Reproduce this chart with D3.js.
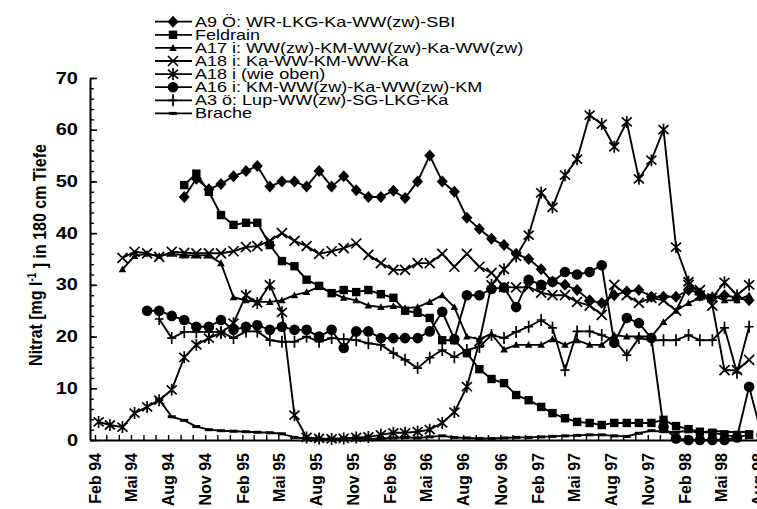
<!DOCTYPE html>
<html lang="de">
<head>
<meta charset="utf-8">
<script src="https://cdn.jsdelivr.net/npm/d3@7"></script>
<style>
  body { margin:0; background:#fff; }
  svg { display:block; background:#fff; font-family:"Liberation Sans", Arial, Helvetica, sans-serif; }
  .line { fill:none; stroke:#000; stroke-width:1.9; stroke-linejoin:round; }
  .axis path, .axis line { stroke:#000; }
</style>
</head>
<body>
<script>
// Nitratwerte je Monat, ab dem jeweiligen Startmonat
var a9Start = "1994-09";
var a9 = [47, 50.5, 48.5, 49.5, 51, 52, 53, 49, 50, 50, 49, 52, 49, 51, 48.3, 47, 47, 48.2, 46.8, 50,
  55, 50, 48, 43, 40.8, 38.9, 37.7, 36, 35, 33, 30.6, 30, 29, 27, 26.5, 28, 28.7, 29, 27.7, 27.7,
  27.7, 29, 28.4, 27.5, 28, 27.5, 27];
var feldrainStart = "1994-09";
var feldrain = [49.3, 51.5, 48, 43.5, 41.6, 42, 42, 37.7, 34.6, 33.6, 31, 29.8, 28.4, 29, 28.6, 29, 28.2, 27.5, 25, 24.6,
  23.6, 19.3, 19.3, 16.8, 13.7, 11.8, 11, 8.7, 7.7, 6.4, 5.2, 4.2, 3.5, 3.3, 2.9, 3.3, 3.3, 3.3, 3.3, 3.9,
  2.7, 2.1, 1.6, 1.4, 1, 0.6, 1];
var a17Start = "1994-04";
var a17 = [33, 35.6, 36, 35.6, 36, 35.7, 35.7, 35.7, 34.2, 27.6, 27, 26.7, 26.7, 27, 28, 28.6, 29.6, 28.5, 27.5, 27,
  26, 25.7, 25.9, 25.5, 25.7, 26.7, 28, 25.7, 20, 19.5, 20.5, 17.5, 18.4, 18.4, 18.4, 19.5, 18.4, 19.3, 18.4, 18.4,
  20.3, 20, 20, 20, 22.8, 25, 26.5, 27.5, 28, 27, 27, 28];
var a18Start = "1994-04";
var a18 = [35.2, 36.4, 36.1, 35.4, 36.4, 36.2, 36.1, 36.1, 36.1, 36.5, 37.3, 37.5, 38.5, 40, 38.5, 37.5, 36, 36.5, 37.1, 38,
  35.8, 34.2, 32.9, 32.9, 34.2, 34.2, 36, 33.5, 36, 33.5, 32.3, 29.6, 29.5, 29.6, 28.5, 28, 28, 26.7, 26, 24.2,
  30, 28, 26.5, 27.5, 27, 25, 30, 29, 26, 13.5, 13.5, 15.5];
var a18bStart = "1994-02";
var a18b = [3.5, 2.9, 2.5, 5.2, 6.4, 7.7, 9.7, 16, 18.4, 19.7, 20.7, 22.6, 28, 26.5, 30, 24.7, 4.8, 0.5, 0.3, 0.2,
  0.3, 0.5, 0.6, 1, 1.4, 1.4, 1.6, 2, 3.3, 5.4, 10.3, 19, 30, 33, 35.5, 39.6, 47.8, 45, 51.2, 54.3,
  62.8, 61.1, 56.7, 61.5, 50.5, 54.1, 60, 37.3, 30.6, 28, 27.5, 30.5, 28, 30];
var a16Start = "1994-06";
var a16 = [25, 25, 24, 23.2, 21.9, 21.9, 23.2, 21.3, 21.9, 22.2, 21.3, 21.9, 21.3, 21.3, 20, 21.3, 17.8, 21, 21, 19.7,
  19.7, 19.7, 19.7, 21, 24.8, 19.5, 28, 28, 29.2, 29.5, 25.7, 31, 30, 30.6, 32.5, 32, 32.5, 33.8, 18.8, 23.6,
  22.6, 19.7, 2.5, 0.3, 0, 0, 0, 0, 0.5, 10.3, 1];
var a3Start = "1994-07";
var a3 = [23.4, 19.7, 20.9, 20.9, 20.9, 20.9, 19.7, 21, 21, 19.3, 19, 19, 20, 19, 19.7, 19.5, 19.3, 18.7, 18.4, 16.8,
  15.5, 13.9, 15.9, 17.4, 16, 17.4, 18, 20.3, 19.7, 20.9, 21.9, 23.2, 21.7, 13.5, 21, 21, 20.3, 19.3, 16.4, 19.7,
  19.3, 19.3, 19.3, 20.3, 19.3, 19.3, 21.7, 13, 21.9];
var bracheStart = "1994-07";
var brache = [7.8, 4.5, 3.8, 2.6, 2, 1.8, 1.7, 1.6, 1.5, 1.4, 1.2, 0.5, 0.3, 0.2, 0.2, 0.3, 0.3, 0.2, 0.3, 0.4,
  0.5, 0.4, 0.6, 0.8, 0.5, 0.4, 0.3, 0.3, 0.4, 0.5, 0.5, 0.6, 0.7, 0.8, 0.9, 1, 1, 0.8, 0.7, 1.3,
  1.8, 1.6, 1.5, 1.8, 1.4, 1.8, 1.6, 1.5, 1.6];

var legendNames = ["A9 Ö: WR-LKG-Ka-WW(zw)-SBI", "Feldrain", "A17 i: WW(zw)-KM-WW(zw)-Ka-WW(zw)",
  "A18 i: Ka-WW-KM-WW-Ka", "A18 i (wie oben)", "A16 i: KM-WW(zw)-Ka-WW(zw)-KM",
  "A3 ö: Lup-WW(zw)-SG-LKG-Ka", "Brache"];

var xLabelMonths = ["1994-02", "1994-05", "1994-08", "1994-11", "1995-02", "1995-05", "1995-08", "1995-11",
  "1996-02", "1996-05", "1996-08", "1996-11", "1997-02", "1997-05", "1997-08", "1997-11", "1998-02", "1998-05", "1998-08"];
var xLabels = ["Feb 94", "Mai 94", "Aug 94", "Nov 94", "Feb 95", "Mai 95", "Aug 95", "Nov 95",
  "Feb 96", "Mai 96", "Aug 96", "Nov 96", "Feb 97", "Mai 97", "Aug 97", "Nov 97", "Feb 98", "Mai 98", "Aug 98"];
var yTicks = [0, 10, 20, 30, 40, 50, 60, 70];
var yMinor = [0, 2, 4, 6, 8, 10, 12, 14, 16, 18, 20, 22, 24, 26, 28, 30, 32, 34, 36, 38, 40,
  42, 44, 46, 48, 50, 52, 54, 56, 58, 60, 62, 64, 66, 68, 70];

// Symbole
var symbols = {
  diamond: function(g){ g.append("path").attr("d", "M0,-6L5.5,0L0,6L-5.5,0Z").attr("fill", "#000"); },
  square: function(g){ g.append("rect").attr("x", -4.2).attr("y", -4.2).attr("width", 8.4).attr("height", 8.4).attr("fill", "#000"); },
  triangle: function(g){ g.append("path").attr("d", "M0,-3.8L3.8,3L-3.8,3Z").attr("fill", "#000"); },
  cross: function(g){ g.append("path").attr("d", "M-5,-5L5,5M5,-5L-5,5").attr("stroke", "#000").attr("stroke-width", 1.7); },
  star: function(g){ g.append("path").attr("d", "M-5,-4.5L5,4.5M5,-4.5L-5,4.5M0,-6V6").attr("stroke", "#000").attr("stroke-width", 1.7); },
  circle: function(g){ g.append("circle").attr("r", 5.3).attr("fill", "#000"); },
  plus: function(g){ g.append("path").attr("d", "M0,-6V6M-4.5,0H4.5").attr("stroke", "#000").attr("stroke-width", 1.7); },
  dash: function(g){ g.append("path").attr("d", "M-4,0H4").attr("stroke", "#000").attr("stroke-width", 3); }
};

var series = [
  {start: a9Start, values: a9, sym: "diamond"},
  {start: feldrainStart, values: feldrain, sym: "square"},
  {start: a17Start, values: a17, sym: "triangle"},
  {start: a18Start, values: a18, sym: "cross"},
  {start: a18bStart, values: a18b, sym: "star"},
  {start: a16Start, values: a16, sym: "circle"},
  {start: a3Start, values: a3, sym: "plus"},
  {start: bracheStart, values: brache, sym: "dash"}
];

var width = 757, height = 509;
var svg = d3.select("body").append("svg").attr("width", width).attr("height", height);

var parseMonth = d3.timeParse("%Y-%m");
var x0 = d3.scaleTime().domain([parseMonth("1994-02"), parseMonth("1998-08")]).range([95, 758]);
var x = d3.scaleTime().domain([x0.invert(90), x0.invert(757)]).range([90, 757]);
var y = d3.scaleLinear().domain([0, 70]).range([440, 78]);

function points(s) {
  var start = parseMonth(s.start);
  return s.values.map(function(v, i){
    return [d3.timeDay.offset(d3.timeMonth.offset(start, i), 9), v];
  });
}

// Achsen
var gyMinor = svg.append("g").attr("class", "axis").attr("transform", "translate(90,0)")
  .call(d3.axisLeft(y).tickValues(yMinor).tickSize(-4).tickSizeOuter(0).tickFormat(""));
gyMinor.selectAll("line").attr("stroke-width", 1.4);
gyMinor.select("path").attr("stroke-width", 2);

var gy = svg.append("g").attr("class", "axis").attr("transform", "translate(90,0)")
  .call(d3.axisLeft(y).tickValues(yTicks).tickSize(-7).tickSizeOuter(0).tickPadding(12));
gy.select("path").remove();
gy.selectAll("line").attr("stroke-width", 1.6);
gy.selectAll("text")
  .attr("x", -12 / 1.25).attr("transform", "scale(1.25,1)")
  .style("font-size", "16px").style("font-weight", "bold").attr("fill", "#000");

var gx = svg.append("g").attr("class", "axis").attr("transform", "translate(0,440)")
  .call(d3.axisBottom(x).ticks(d3.timeMonth.every(1)).tickSize(-5).tickSizeOuter(0).tickFormat(""));
gx.selectAll("line").attr("stroke-width", 1.4);
gx.select("path").attr("stroke-width", 2.2);

svg.append("g").selectAll("text")
  .data(xLabelMonths)
  .join("text")
  .attr("transform", function(d){ return "translate(" + x0(parseMonth(d)) + ",453) scale(1.08,1) rotate(-90)"; })
  .attr("dy", "0.36em")
  .attr("text-anchor", "end")
  .style("font-size", "16px").style("font-weight", "bold")
  .text(function(d, i){ return xLabels[i]; });

var title = svg.append("text")
  .attr("transform", "translate(35,255) scale(1.2,1) rotate(-90)")
  .attr("dy", "0.36em")
  .attr("text-anchor", "middle")
  .style("font-size", "16px").style("font-weight", "bold");
title.append("tspan").text("Nitrat [mg l");
title.append("tspan").attr("dy", "-0.5em").style("font-size", "10px").text("-1");
title.append("tspan").attr("dy", "0.5em").text(" ] in 180 cm Tiefe");

// Linien und Punkte
var line = d3.line().x(function(d){ return x(d[0]); }).y(function(d){ return y(d[1]); });

series.forEach(function(s){
  var p = points(s);
  svg.append("path").datum(p).attr("class", "line").attr("d", line);
  svg.append("g").selectAll("g")
    .data(p)
    .join("g")
    .attr("transform", function(d){ return "translate(" + x(d[0]) + "," + y(d[1]) + ")"; })
    .each(function(){ symbols[s.sym](d3.select(this)); });
});

// Legende
var legend = svg.append("g");
series.forEach(function(s, i){
  var ly = 21.7 + i * 13.1;
  var row = legend.append("g").attr("transform", "translate(0," + ly + ")");
  row.append("path").attr("d", "M155,0H192").attr("stroke", "#000").attr("stroke-width", 1.8);
  symbols[s.sym](row.append("g").attr("transform", "translate(173,0)"));
  row.append("text")
    .attr("transform", "translate(195,0) scale(1.27,1)")
    .attr("dy", "0.35em")
    .style("font-size", "14.2px")
    .text(legendNames[i]);
});
</script>
</body>
</html>
